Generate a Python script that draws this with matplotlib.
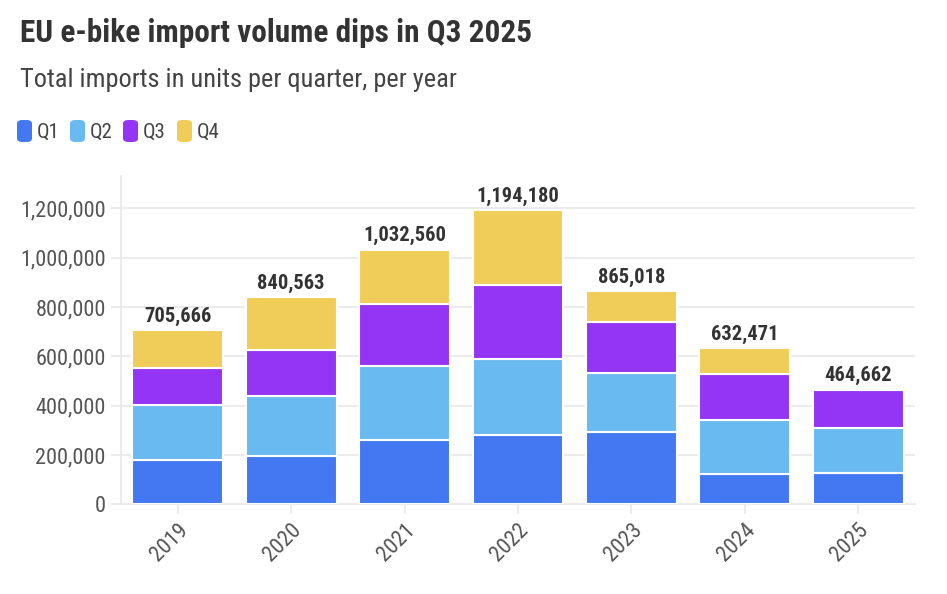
import numpy as np
import matplotlib
matplotlib.use("Agg")
import matplotlib.pyplot as plt
from matplotlib.patches import FancyBboxPatch
from matplotlib.ticker import FuncFormatter

plt.rcParams['font.family'] = ['Roboto Condensed', 'Roboto', 'DejaVu Sans']

# data
years = ['2019', '2020', '2021', '2022', '2023', '2024', '2025']
q1 = [179420, 197240, 259880, 279150, 291340, 124280, 128060]
q2 = [221870, 240810, 300450, 308260, 241920, 216750, 181980]
q3 = [149310, 188330, 251920, 301740, 207630, 188310, 154622]
q4 = [155066, 214183, 220310, 305030, 124128, 103131, 0]
quarters = ['Q1', 'Q2', 'Q3', 'Q4']
colors = ['#4378F2', '#6ABAF2', '#9434F4', '#F0CC59']

W, H = 947, 594
fig = plt.figure(figsize=(W / 100, H / 100), dpi=100)
ax = fig.add_axes([121 / W, 1 - 504.3 / H, (915 - 121) / W, (504.3 - 176) / H])

x = np.arange(len(years))
bottom = np.zeros(len(years))
for vals, c in zip([q1, q2, q3, q4], colors):
    ax.bar(x, vals, width=0.8, bottom=bottom, color=c, edgecolor='white',
           linewidth=1.5, zorder=3)
    bottom += np.array(vals)

totals = bottom
for xi, t in zip(x, totals):
    ax.annotate(f'{int(t):,}', (xi, t), xytext=(0, 6), textcoords='offset points',
                ha='center', va='baseline', fontsize=14.8, fontweight='bold',
                color='#333333')

ax.set_xlim(-0.5, len(years) - 0.5)
ax.set_ylim(0, 1331000)
ax.set_yticks(np.arange(0, 1200001, 200000))
ax.yaxis.set_major_formatter(FuncFormatter(lambda v, p: f'{int(v):,}'))
ax.set_xticks(x)
ax.set_xticklabels(years, rotation=45, ha='right', rotation_mode='anchor')

ax.grid(axis='y', color='#EBEBEB', linewidth=1.5, zorder=0)
for s in ['top', 'right']:
    ax.spines[s].set_visible(False)
ax.spines['left'].set_color('#EBEBEB')
ax.spines['left'].set_linewidth(1.5)
ax.spines['bottom'].set_color('#EBEBEB')
ax.spines['bottom'].set_linewidth(1.5)
ax.tick_params(axis='both', colors='#EBEBEB', width=1.5, length=7,
               labelcolor='#555555', labelsize=16)
ax.tick_params(axis='y', pad=4)
ax.tick_params(axis='x', pad=4)

# title, subtitle
fig.text(20 / W, 1 - 42 / H, 'EU e-bike import volume dips in Q3 2025', fontsize=22.5,
         fontweight='bold', color='#333333', va='baseline')
fig.text(20 / W, 1 - 87 / H, 'Total imports in units per quarter, per year', fontsize=19,
         color='#444444', va='baseline')

# legend
sq_x = [17, 70, 123, 177]
for sx, q, c in zip(sq_x, quarters, colors):
    fig.patches.append(FancyBboxPatch((sx / W, 1 - 142 / H), 15 / W, 22 / H,
                                      boxstyle='round,pad=0,rounding_size=0.006',
                                      transform=fig.transFigure, facecolor=c,
                                      edgecolor='none'))
    fig.text((sx + 20) / W, 1 - 138 / H, q, fontsize=15, color='#444444',
             va='baseline')

fig.savefig('out.png', dpi=100, facecolor='white')
